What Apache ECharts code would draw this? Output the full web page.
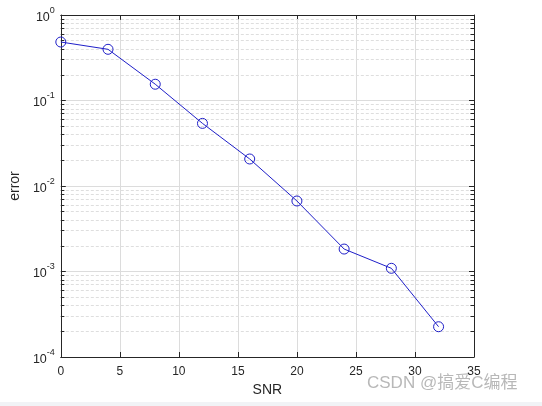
<!DOCTYPE html>
<html>
<head>
<meta charset="utf-8">
<script src="https://cdn.jsdelivr.net/npm/echarts@6/dist/echarts.min.js"></script>
<style>
html,body{margin:0;padding:0;background:#fff;}
#c{width:542px;height:406px;}
</style>
</head>
<body>
<div id="c"></div>
<script>
var snr = [0, 4, 8, 12, 16, 20, 24, 28, 32];
var errorValues = [0.483, 0.397, 0.155, 0.054, 0.0207, 0.00668, 0.00183, 0.00109, 0.000226];
var xTicks = [0, 5, 10, 15, 20, 25, 30, 35];
var decades = [0.0001, 0.001, 0.01, 0.1];
var minorMults = [2, 3, 4, 5, 6, 7, 8, 9];

var minorVals = [];
decades.forEach(function (d) { minorMults.forEach(function (m) { minorVals.push(d * m); }); });

var FONT = 'Liberation Sans, Arial, sans-serif';
var AX = '#262626';

var markData = [];
minorVals.forEach(function (v) {
  markData.push([{ coord: [0, v], lineStyle: { color: '#dedede', type: [3, 2], width: 1 } }, { coord: [35, v] }]);
  markData.push([{ coord: [0, v], lineStyle: { color: AX, type: 'solid', width: 1 } }, { coord: [0.3, v] }]);
  markData.push([{ coord: [34.7, v], lineStyle: { color: AX, type: 'solid', width: 1 } }, { coord: [35, v] }]);
});

var chart = echarts.init(document.getElementById('c'), null, { renderer: 'canvas' });
chart.setOption({
  backgroundColor: '#ffffff',
  animation: false,
  grid: { left: 58, right: 68, top: 15, bottom: 49, containLabel: false },
  xAxis: [{
    type: 'value', min: 0, max: 35, interval: 5,
    name: 'SNR', nameLocation: 'middle', nameGap: 25,
    nameTextStyle: { fontFamily: FONT, fontSize: 14, color: AX },
    axisLine: { show: true, onZero: false, lineStyle: { color: AX, width: 1 } },
    axisTick: { show: true, inside: true, length: 5, lineStyle: { color: AX } },
    axisLabel: { fontFamily: FONT, fontSize: 12, color: AX, margin: 9 },
    splitLine: { show: true, lineStyle: { color: '#dcdcdc', width: 1 } }
  }, {
    type: 'value', min: 0, max: 35, interval: 5, position: 'top',
    axisLine: { show: true, onZero: false, lineStyle: { color: AX, width: 1 } },
    axisTick: { show: true, inside: true, length: 5, lineStyle: { color: AX } },
    axisLabel: { show: false }, splitLine: { show: false }
  }],
  yAxis: [{
    type: 'log', logBase: 10, min: 0.0001, max: 1,
    name: 'error', nameLocation: 'middle', nameGap: 37,
    nameTextStyle: { fontFamily: FONT, fontSize: 14, color: AX },
    axisLine: { show: true, onZero: false, lineStyle: { color: AX, width: 1 } },
    axisTick: { show: true, inside: true, length: 5, lineStyle: { color: AX } },
    axisLabel: {
      margin: 6,
      formatter: function (v) {
        var e = Math.round(Math.log10(v));
        return '{b|10}{s|' + e + '}';
      },
      rich: {
        b: { fontFamily: FONT, fontSize: 12.5, color: AX, lineHeight: 18, verticalAlign: 'bottom' },
        s: { fontFamily: FONT, fontSize: 9, color: AX, lineHeight: 18, verticalAlign: 'top' }
      }
    },
    splitLine: { show: true, lineStyle: { color: '#dcdcdc', width: 1 } }
  }, {
    type: 'log', logBase: 10, min: 0.0001, max: 1, position: 'right',
    axisLine: { show: true, onZero: false, lineStyle: { color: AX, width: 1 } },
    axisTick: { show: true, inside: true, length: 5, lineStyle: { color: AX } },
    axisLabel: { show: false }, splitLine: { show: false }
  }],
  series: [{
    type: 'line',
    data: snr.map(function (x, i) { return [x, errorValues[i]]; }),
    symbol: 'circle', symbolSize: 10,
    itemStyle: { color: 'rgba(0,0,0,0)', borderColor: '#1f1fc8', borderWidth: 1 },
    lineStyle: { color: '#1f1fc8', width: 1 },
    z: 10,
    markLine: {
      silent: true, symbol: 'none', animation: false,
      label: { show: false },
      data: markData,
      z: 1
    }
  }],
  graphic: [{
    type: 'rect', left: 0, top: 402, shape: { width: 542, height: 4 },
    style: { fill: '#f1f3f6' }
  }, {
    type: 'text', left: 367, top: 375,
    style: { text: 'CSDN @搞爱C编程', fontFamily: 'Liberation Sans, Noto Sans CJK SC, sans-serif', fontSize: 17, fill: '#b8b8b8' }
  }]
});
</script>
</body>
</html>
